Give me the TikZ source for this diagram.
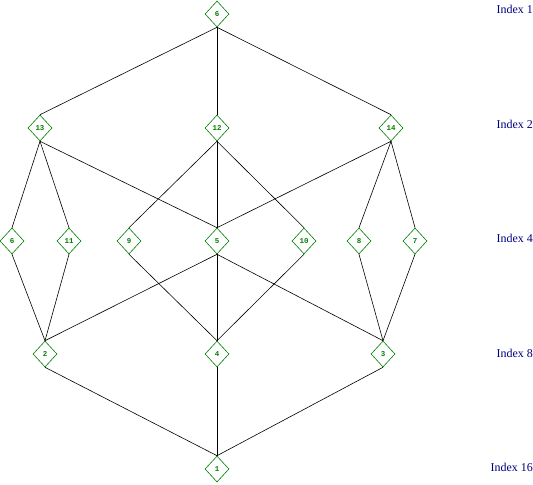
\documentclass[tikz,border=0pt]{standalone}
\usepackage{fontspec}
\setmainfont{Liberation Serif}
\setmonofont{Liberation Mono}
\usetikzlibrary{shapes.geometric}
\definecolor{ngreen}{RGB}{0,128,0}
\definecolor{lnavy}{RGB}{0,0,128}
\begin{document}
\begin{tikzpicture}[x=1bp,y=-1bp,
  vert/.style={diamond,draw=ngreen,text=ngreen,inner sep=0pt,minimum width=24bp,minimum height=26bp,font=\ttfamily\bfseries\fontsize{7.5}{8}\selectfont,line width=0.6bp},
  lvl/.style={anchor=east,text=lnavy,font=\fontsize{12}{13}\selectfont,inner sep=0pt},
  edge/.style={line width=0.6bp,black}]
\useasboundingbox (0,0) rectangle (533,485);
\node[vert] (n6) at (217,14) {6};
\node[vert] (n13) at (40,128) {13};
\node[vert] (n12) at (217,128) {12};
\node[vert] (n14) at (391,128) {14};
\node[vert] (m6) at (12,241) {6};
\node[vert] (n11) at (69,241) {11};
\node[vert] (n9) at (129,241) {9};
\node[vert] (n5) at (217,241) {5};
\node[vert] (n10) at (304,241) {10};
\node[vert] (n8) at (359,241) {8};
\node[vert] (n7) at (415,241) {7};
\node[vert] (n2) at (45,354) {2};
\node[vert] (n4) at (217,354) {4};
\node[vert] (n3) at (383,354) {3};
\node[vert] (n1) at (217,469) {1};
\node[lvl] (l1) at (533,9) {Index 1};
\node[lvl] (l2) at (533,124) {Index 2};
\node[lvl] (l4) at (533,238) {Index 4};
\node[lvl] (l8) at (533,353) {Index 8};
\node[lvl] (l16) at (533,467) {Index 16};
\foreach \a/\b in {n6/n13,n6/n12,n6/n14,
  n13/m6,n13/n11,n13/n5,n12/n9,n12/n5,n12/n10,n14/n5,n14/n8,n14/n7,
  m6/n2,n11/n2,n9/n4,n5/n2,n5/n4,n5/n3,n10/n4,n8/n3,n7/n3,
  n2/n1,n4/n1,n3/n1}
  \draw[edge] (\a.south) -- (\b.north);
\end{tikzpicture}
\end{document}
